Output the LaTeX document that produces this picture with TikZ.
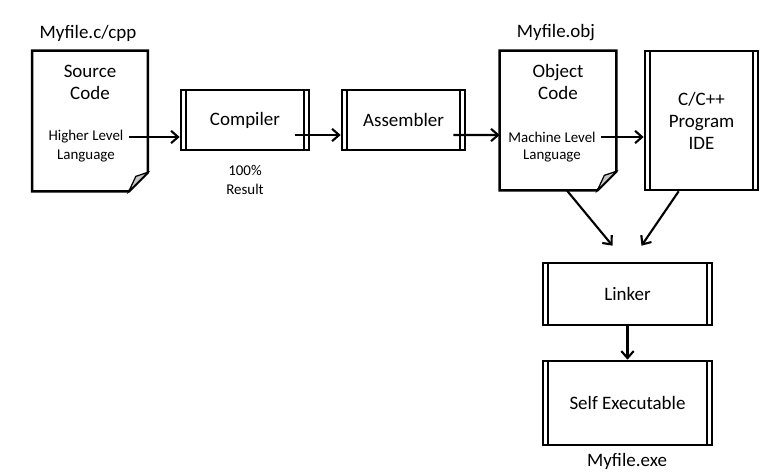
\documentclass[tikz,border=0pt]{standalone}
\usepackage{fontspec}
\setmainfont{Carlito}
\usetikzlibrary{arrows.meta}

\newcommand{\bigtxt}{\fontsize{10.8}{12.5}\selectfont}
\newcommand{\smalltxt}{\fontsize{8.5}{11.3}\selectfont}

% outline of a document with a folded corner
\newcommand{\docshape}[1]{%
  \draw[line width=1.5pt, line join=miter] (#1.north west) -- (#1.north east)
    -- ([shift={(0,-19)}]#1.south east) -- ([shift={(-19,0)}]#1.south east)
    -- (#1.south west) -- cycle;
  \filldraw[fill=gray!45, line width=0.7pt] ([shift={(-19,0)}]#1.south east)
    -- ([shift={(-12,-15)}]#1.south east) -- ([shift={(0,-19)}]#1.south east) -- cycle;
}

\tikzset{
  doc/.style={minimum width=2.3cm, minimum height=2.8cm, inner sep=0pt},
  proc/.style={draw, line width=1.5pt, font=\bigtxt, inner sep=0pt,
    path picture={
      \draw[line width=0.6pt] ([xshift=0.1cm]path picture bounding box.north west)
        -- ([xshift=0.1cm]path picture bounding box.south west);
      \draw[line width=0.6pt] ([xshift=-0.1cm]path picture bounding box.north east)
        -- ([xshift=-0.1cm]path picture bounding box.south east);
    }},
  flow/.style={line width=1.2pt, -{Straight Barb[length=4pt, width=7pt, line width=1.2pt]}},
}

\begin{document}
\begin{tikzpicture}[x=0.02cm, y=-0.02cm]
  \useasboundingbox (0,0) rectangle (773,474);

  % Source file
  \node[doc] (src) at (90,121) {};
  \docshape{src}
  \node[font=\bigtxt] (srcname) at (88,33) {Myfile.c/cpp};
  \node[font=\bigtxt, align=center] (srctitle) at (90,82) {Source\\Code};
  \node[font=\smalltxt, inner sep=3pt] (hll) at (86,137) {Higher Level};
  \node[font=\smalltxt] (hlllang) at (86,156) {Language};

  % Compiler and assembler
  \node[proc, minimum width=2.56cm, minimum height=1.2cm] (comp) at (245,120) {Compiler};
  \node[font=\smalltxt, align=center] (result) at (245,180) {100\%\\Result};
  \node[proc, minimum width=2.46cm, minimum height=1.2cm] (asm) at (403.5,120) {Assembler};

  % Object file
  \node[doc, minimum width=2.32cm, minimum height=2.78cm] (obj) at (558,120.5) {};
  \docshape{obj}
  \node[font=\bigtxt] (objname) at (556,33) {Myfile.obj};
  \node[font=\bigtxt, align=center] (objtitle) at (558,82) {Object\\Code};
  \node[font=\smalltxt, inner sep=3pt] (mll) at (552,137) {Machine Level};
  \node[font=\smalltxt] (mlllang) at (552,156) {Language};

  % IDE
  \node[proc, minimum width=2.26cm, minimum height=2.78cm, align=center] (ide) at (701.5,120.5) {C/C++\\Program\\IDE};

  % Linker and output
  \node[proc, minimum width=3.38cm, minimum height=1.24cm] (link) at (627.5,294) {Linker};
  \node[proc, minimum width=3.38cm, minimum height=1.68cm] (exe) at (627.5,403) {Self Executable};
  \node[font=\bigtxt] (exename) at (627,461) {Myfile.exe};

  % arrows
  \draw[flow] (hll.east) -- (hll.east -| comp.west);
  \draw[flow] ([shift={(-15,15)}]comp.east) -- ([shift={(0,15)}]asm.west);
  \draw[flow] ([shift={(-13,15)}]asm.east) -- ([shift={(0,14.5)}]obj.west);
  \draw[flow] (mll.east) -- (mll.east -| ide.west);
  \draw[flow] ([xshift=5]obj.south) -- ([shift={(-15,-16)}]link.north);
  \draw[flow] ([xshift=-13]ide.south) -- ([shift={(14,-16)}]link.north);
  \draw[flow] (link.south) -- (exe.north);
\end{tikzpicture}
\end{document}
